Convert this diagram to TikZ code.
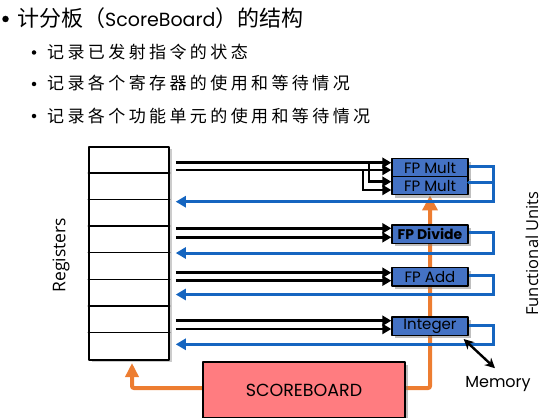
\documentclass[tikz,border=0pt]{standalone}
\usepackage{fontspec}
\setsansfont{Open Sans}
\newfontfamily\cjk{Noto Sans CJK SC}
\newfontfamily\cjksub[LetterSpace=20]{Noto Sans CJK SC}
\newfontfamily\gothic{Poppins}
\usetikzlibrary{arrows.meta,shadows,backgrounds}
\definecolor{fublue}{RGB}{68,114,196}
\definecolor{retblue}{RGB}{21,101,192}
\definecolor{sborange}{RGB}{237,125,49}
\definecolor{sbred}{RGB}{255,124,128}
\tikzset{
  fu/.style={draw, line width=1.4pt, fill=fublue, minimum width=76pt, minimum height=18.3pt, inner sep=0pt,
    font=\gothic\fontsize{15}{15}\selectfont, drop shadow={opacity=.5, shadow xshift=3pt, shadow yshift=-3pt}},
  issue/.style={line width=2.6pt, line join=miter, line cap=butt, -{Triangle[length=9pt,width=10pt]}},
  ret/.style={draw=retblue, line width=3pt, line join=miter, line cap=butt, -{Triangle[length=10pt,width=11pt]}},
  retline/.style={draw=retblue, line width=3pt, line join=miter},
  ctl/.style={draw=sborange, line width=4pt, rounded corners=2pt},
  sublbl/.style={anchor=base west, inner sep=0pt, font=\cjksub\fontsize{17}{17}\selectfont},
  subdot/.style={circle, fill, inner sep=0pt, minimum size=4.5pt},
}
\begin{document}
\begin{tikzpicture}[x=1pt, y=-1pt, line join=round, line cap=round]
\useasboundingbox (0,0) rectangle (553,417);
\clip (0,0) rectangle (553,417);
\node[circle, fill, inner sep=0pt, minimum size=6.5pt] (b0) at (5.5,19) {};
\node[anchor=base west, inner sep=0pt, font=\cjk\fontsize{22}{22}\selectfont] (title) at (17,26.5)
  {计分板（{\gothic\fontsize{19}{19}\selectfont ScoreBoard}）的结构};
\node[subdot] (b1) at (34,52.5) {};
\node[sublbl] (s1) at (47,58.5) {记录已发射指令的状态};
\node[subdot] (b2) at (34,84) {};
\node[sublbl] (s2) at (47,90) {记录各个寄存器的使用和等待情况};
\node[subdot] (b3) at (34,116) {};
\node[sublbl] (s3) at (47,122) {记录各个功能单元的使用和等待情况};

\node[draw, line width=1.5pt, fill=white, minimum width=80pt, minimum height=213pt, inner sep=0pt,
  drop shadow={opacity=.4, shadow xshift=3pt, shadow yshift=-2pt}] (regs) at (129,253.5) {};
\foreach \r in {1,...,7}
  \draw[line width=1.3pt] ([yshift=-\r*26.625pt]regs.north west) -- ([yshift=-\r*26.625pt]regs.north east);
\node[rotate=90, font=\sffamily\fontsize{17.5}{17.5}\selectfont] (reglbl) at (61,255) {Registers};
\node[rotate=90, font=\sffamily\fontsize{16.5}{16.5}\selectfont] (fulbl) at (532,253.5) {Functional Units};

\node[fu] (mulA) at (430,167.75) {FP Mult};
\node[fu] (mulB) at (430,185.6) {FP Mult};
\node[fu, font=\gothic\bfseries\fontsize{14}{14}\selectfont] (div) at (430,234.2) {FP Divide};
\node[fu] (add) at (430,276.7) {FP Add};
\node[fu] (int) at (430,326.2) {Integer};

\node[draw, line width=1.4pt, fill=sbred, minimum width=202pt, minimum height=56pt,
  font=\gothic\fontsize{17.5}{17.5}\selectfont, drop shadow={opacity=.5, shadow xshift=3pt, shadow yshift=-3pt}] (sb) at (304,390) {SCOREBOARD};
\node[inner sep=0pt, font=\gothic\fontsize{16}{16}\selectfont] (mem) at (498,384) {Memory};

\coordinate (regsout) at ([xshift=6pt]regs.east);
\coordinate (regtap) at (132,363);
\coordinate (loopx) at (493,0);
\coordinate (brA) at (369,162.7);
\coordinate (brB) at (363,170);

\begin{scope}[on background layer]
\draw[ctl, -{Triangle[length=15pt,width=15pt]}] (sb.east |- 0,388) -| (mulB.south);
\draw[ctl, -{Triangle[length=14pt,width=13pt]}] (sb.west |- 0,388) -| (regtap);
\end{scope}

\draw[ret] (mulA.east |- 0,166) -| (loopx |- 0,201.7) -- (regsout |- 0,201.7);
\draw[retline] (mulB.east |- 0,182.7) -- (loopx |- 0,182.7);
\draw[ret] (div.east |- 0,232.3) -| (loopx |- 0,253) -- (regsout |- 0,253);
\draw[ret] (add.east |- 0,275.7) -| (loopx |- 0,294.5) -- (regsout |- 0,294.5);
\draw[ret] (int.east |- 0,325.7) -| (loopx |- 0,344.3) -- (regsout |- 0,344.3);

\foreach \y/\u in {162.7/mulA,170/mulA,228.3/div,237.3/div,272.7/add,280.7/add,320.7/int,329/int}
  \draw[issue] (regsout |- 0,\y) -- (\u.west |- 0,\y);
\draw[issue] (brA) |- (mulB.west |- 0,181.7);
\draw[issue] (brB) |- (mulB.west |- 0,190);

\draw[line width=2.4pt, {Stealth[length=10pt,width=10pt]}-{Stealth[length=10pt,width=10pt]}]
  ([xshift=-5pt,yshift=-3pt]int.south east) -- ([xshift=-3pt,yshift=8pt]mem.north);
\end{tikzpicture}
\end{document}
